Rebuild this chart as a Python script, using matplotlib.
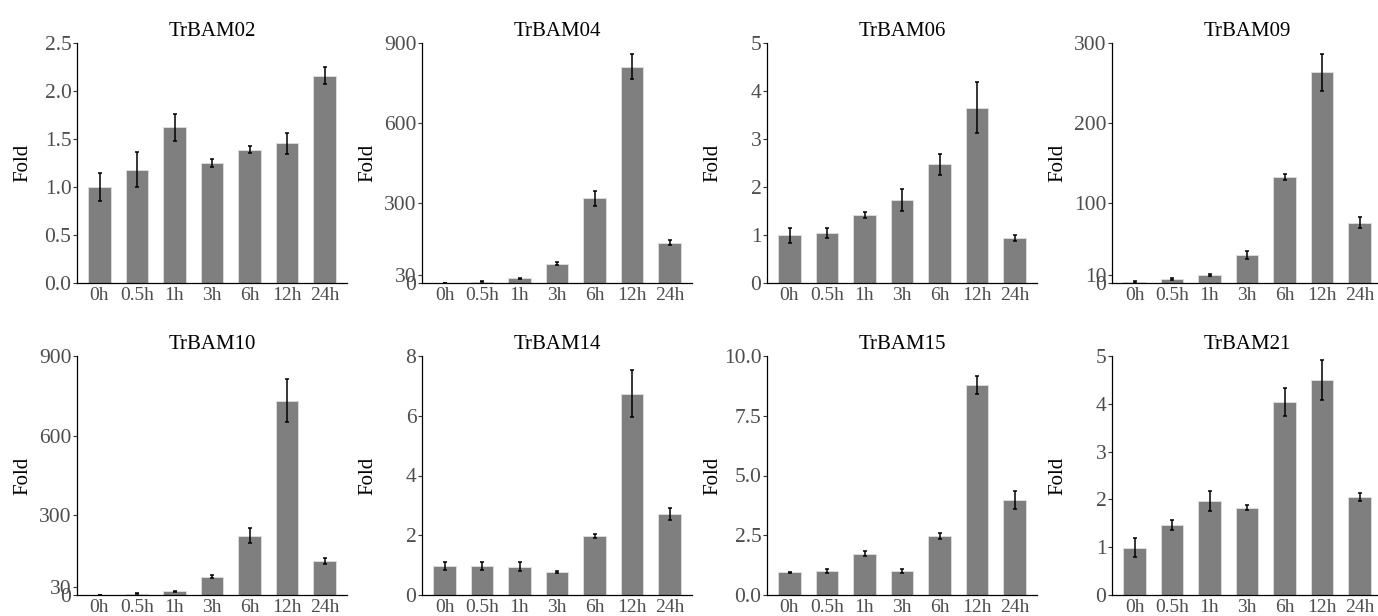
import matplotlib
matplotlib.use("Agg")
import matplotlib.pyplot as plt
import numpy as np

plt.rcParams['font.family'] = ['Liberation Serif', 'DejaVu Serif']

times = ['0h', '0.5h', '1h', '3h', '6h', '12h', '24h']
genes = ['TrBAM02', 'TrBAM04', 'TrBAM06', 'TrBAM09',
         'TrBAM10', 'TrBAM14', 'TrBAM15', 'TrBAM21']

# mean fold change and error (sd) per gene
bam02_mean = [1.00, 1.18, 1.62, 1.25, 1.39, 1.455, 2.16]
bam02_sd   = [0.15, 0.18, 0.14, 0.045, 0.035, 0.11, 0.085]
bam04_mean = [1.0, 5.0, 17.5, 72.7, 317, 811, 151.7]
bam04_sd   = [0.2, 2.0, 3.0, 5.0, 28, 46, 9.0]
bam06_mean = [0.99, 1.045, 1.414, 1.72, 2.47, 3.656, 0.94]
bam06_sd   = [0.16, 0.11, 0.055, 0.23, 0.21, 0.54, 0.06]
bam09_mean = [1.0, 5.4, 10.0, 34.7, 132.5, 263.3, 75.6]
bam09_sd   = [1.0, 1.3, 0.8, 5.0, 4.0, 23.4, 6.3]
bam10_mean = [1.0, 5.0, 13.8, 69, 223.4, 731.8, 128]
bam10_sd   = [0.2, 1.5, 2.0, 5.0, 29, 81.6, 12]
bam14_mean = [0.97, 0.97, 0.95, 0.77, 1.975, 6.74, 2.70]
bam14_sd   = [0.12, 0.12, 0.14, 0.045, 0.065, 0.79, 0.20]
bam15_mean = [0.95, 1.004, 1.73, 1.0, 2.47, 8.77, 3.99]
bam15_sd   = [0.02, 0.07, 0.10, 0.07, 0.11, 0.38, 0.38]
bam21_mean = [0.993, 1.47, 1.97, 1.83, 4.035, 4.497, 2.056]
bam21_sd   = [0.20, 0.10, 0.21, 0.06, 0.30, 0.41, 0.08]

# y ticks per gene
ticks02 = [0.0, 0.5, 1.0, 1.5, 2.0, 2.5]
labels02 = ['0.0', '0.5', '1.0', '1.5', '2.0', '2.5']
ticks04 = [0, 30, 300, 600, 900]
ticks06 = [0, 1, 2, 3, 4, 5]
ticks09 = [0, 10, 100, 200, 300]
ticks10 = [0, 30, 300, 600, 900]
ticks14 = [0, 2, 4, 6, 8]
ticks15 = [0, 2.5, 5, 7.5, 10]
labels15 = ['0.0', '2.5', '5.0', '7.5', '10.0']
ticks21 = [0, 1, 2, 3, 4, 5]

panels = [
    (bam02_mean, bam02_sd, ticks02, labels02),
    (bam04_mean, bam04_sd, ticks04, [str(t) for t in ticks04]),
    (bam06_mean, bam06_sd, ticks06, [str(t) for t in ticks06]),
    (bam09_mean, bam09_sd, ticks09, [str(t) for t in ticks09]),
    (bam10_mean, bam10_sd, ticks10, [str(t) for t in ticks10]),
    (bam14_mean, bam14_sd, ticks14, [str(t) for t in ticks14]),
    (bam15_mean, bam15_sd, ticks15, labels15),
    (bam21_mean, bam21_sd, ticks21, [str(t) for t in ticks21]),
]

W, H = 1378, 616
fig = plt.figure(figsize=(W / 100, H / 100), dpi=100)

lefts = [77, 422, 767, 1112]
rows = [(43, 283), (356, 595)]
axw = 270

x = np.arange(len(times))
for i, (gene, (mean, sd, yt, yl)) in enumerate(zip(genes, panels)):
    top, bot = rows[i // 4]
    left = lefts[i % 4]
    ax = fig.add_axes([left / W, (H - bot) / H, axw / W, (bot - top) / H])
    ax.bar(x, mean, width=0.6, color='#7f7f7f', edgecolor='#e0e0e0', linewidth=0.6)
    ax.errorbar(x, mean, yerr=sd, fmt='none', ecolor='black', elinewidth=1.1,
                capsize=1.6, capthick=1.1)
    ax.set_xlim(-0.6, 6.6)
    ax.set_ylim(0, yt[-1])
    ax.set_yticks(yt)
    ax.set_yticklabels(yl)
    ax.set_xticks(x)
    ax.set_xticklabels(times)
    ax.tick_params(axis='x', length=0, pad=3, labelsize=14, labelcolor='#4d4d4d')
    ax.tick_params(axis='y', length=3, width=0.8, pad=1, labelsize=15.5,
                   labelcolor='#4d4d4d', color='#333333')
    for s in ['top', 'right']:
        ax.spines[s].set_visible(False)
    for s in ['left', 'bottom']:
        ax.spines[s].set_linewidth(0.9)
        ax.spines[s].set_color('black')
    ax.set_title(gene, fontsize=15, pad=5)
    ax.set_ylabel('Fold', fontsize=15)
    ax.yaxis.set_label_coords(-45 / axw, 0.5)

fig.savefig('out.png', dpi=100)
